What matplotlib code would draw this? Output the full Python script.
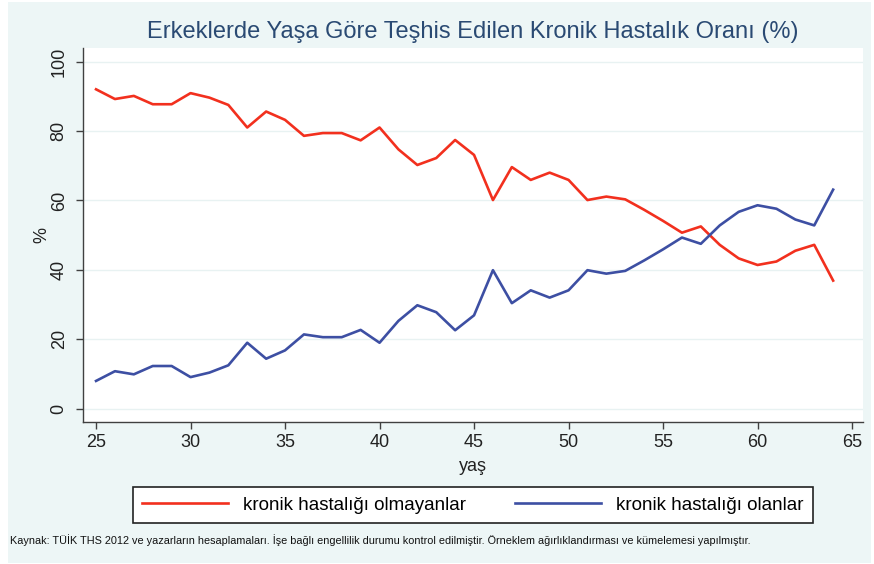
import matplotlib.pyplot as plt
from matplotlib.patches import Rectangle

RED = '#f2301e'
BLUE = '#3d4fa3'
NAVY = '#2a4a73'
BG = '#edf6f6'

yas = list(range(25, 65))
olmayan = [92.0, 89.2, 90.1, 87.7, 87.7, 90.9, 89.6, 87.5, 81.0, 85.6,
           83.2, 78.6, 79.4, 79.4, 77.3, 81.0, 74.7, 70.2, 72.2, 77.4,
           73.1, 60.1, 69.6, 65.9, 68.0, 65.9, 60.1, 61.1, 60.3, 57.3,
           54.1, 50.7, 52.5, 47.2, 43.3, 41.4, 42.4, 45.5, 47.2, 36.9]
olan = [8.0, 10.8, 9.9, 12.3, 12.3, 9.1, 10.4, 12.5, 19.0, 14.4,
        16.8, 21.4, 20.6, 20.6, 22.7, 19.0, 25.3, 29.8, 27.8, 22.6,
        26.9, 39.9, 30.4, 34.1, 32.0, 34.1, 39.9, 38.9, 39.7, 42.7,
        45.9, 49.3, 47.5, 52.8, 56.7, 58.6, 57.6, 54.5, 52.8, 63.1]
xticks = [25, 30, 35, 40, 45, 50, 55, 60, 65]
yticks = [0, 20, 40, 60, 80, 100]

plt.rcParams['font.family'] = ['Liberation Sans', 'DejaVu Sans']

fig = plt.figure(figsize=(8.74, 5.64), dpi=100, facecolor='white')
# açık mavi arka plan
fig.patches.append(Rectangle((8 / 874, 1 / 564), 863 / 874, 561 / 564,
                             transform=fig.transFigure, facecolor=BG,
                             edgecolor='none', zorder=-5))

ax = fig.add_axes([83 / 874, 142 / 564, 780 / 874, 374 / 564])
ax.set_zorder(2)
ax.set_facecolor('white')
ax.plot(yas, olmayan, color=RED, lw=1.9, label='kronik hastalığı olmayanlar')
ax.plot(yas, olan, color=BLUE, lw=1.9, label='kronik hastalığı olanlar')

ax.set_xlim(24.31, 65.58)
ax.set_ylim(-3.83, 103.9)
ax.set_xticks(xticks)
ax.set_yticks(yticks)
ax.grid(axis='y', color='#e8f2f2', lw=1)
ax.set_axisbelow(True)
for s in ['top', 'right']:
    ax.spines[s].set_visible(False)
for s in ['left', 'bottom']:
    ax.spines[s].set_color('#404040')
    ax.spines[s].set_linewidth(1.0)
ax.tick_params(direction='out', length=5, width=1, color='#404040',
               labelsize=13, labelcolor='#222222')
ax.tick_params(axis='y', pad=6)
for lab in ax.get_yticklabels():
    lab.set_rotation(90)
    lab.set_va('center')

ax.set_xlabel('yaş', fontsize=13, color='#222222', labelpad=5.5)
ax.set_ylabel('%', fontsize=13, color='#222222', labelpad=0)

fig.text(473 / 874, 1 - 32 / 564,
         'Erkeklerde Yaşa Göre Teşhis Edilen Kronik Hastalık Oranı (%)',
         ha='center', va='center', fontsize=17, color=NAVY)

leg = fig.legend(loc='center', bbox_to_anchor=(473 / 874, 1 - 505 / 564),
                 ncol=2, fontsize=13.5, frameon=True, fancybox=False,
                 framealpha=1, handlelength=4.6, columnspacing=2.6,
                 borderpad=0.5)
leg.get_frame().set_edgecolor('#222222')
leg.get_frame().set_linewidth(1.2)
leg.set_zorder(3)

fig.text(10 / 874, 1 - 540 / 564,
         'Kaynak: TÜİK THS 2012 ve yazarların hesaplamaları. İşe bağlı engellilik durumu kontrol edilmiştir. '
         'Örneklem ağırlıklandırması ve kümelemesi yapılmıştır.',
         ha='left', va='center', fontsize=7.8, color='#111111',
         family=['Liberation Sans Narrow', 'Liberation Sans', 'DejaVu Sans'])

fig.savefig('out.png', dpi=100, facecolor='white')
